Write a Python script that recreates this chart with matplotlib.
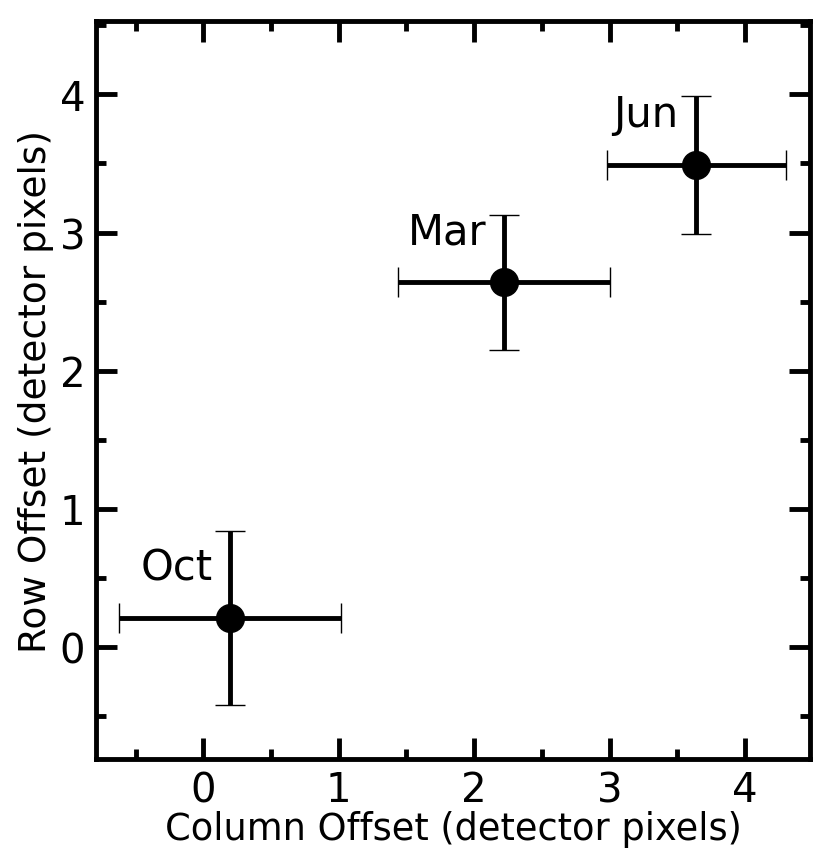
import matplotlib
matplotlib.use("Agg")
import matplotlib.pyplot as plt
from matplotlib.ticker import MultipleLocator

# offsets per epoch (detector pixels)
months = ["Oct", "Mar", "Jun"]
col_off = [0.20, 2.22, 3.64]
row_off = [0.21, 2.64, 3.49]
col_err = [0.82, 0.78, 0.66]
row_err = [0.63, 0.49, 0.50]

fig = plt.figure(figsize=(8.30, 8.53), dpi=100)
ax = fig.add_axes([0.116, 0.109, 0.860, 0.865])

ax.errorbar(col_off, row_off, xerr=col_err, yerr=row_err, fmt="o", color="black",
            markersize=20, elinewidth=3.5, capsize=11, capthick=1)

# labels sit up-left of each point
for m, x, y in zip(months, col_off, row_off):
    ax.text(x - 0.13, y + 0.28, m, fontsize=30, ha="right", va="baseline")

ax.set_xlim(-0.79, 4.48)
ax.set_ylim(-0.81, 4.53)
ax.xaxis.set_major_locator(MultipleLocator(1))
ax.xaxis.set_minor_locator(MultipleLocator(0.5))
ax.yaxis.set_major_locator(MultipleLocator(1))
ax.yaxis.set_minor_locator(MultipleLocator(0.5))
ax.tick_params(which="both", direction="in", top=True, right=True, width=3.5, labelsize=29, pad=8)
ax.tick_params(which="major", length=15)
ax.tick_params(which="minor", length=7.5)
for s in ax.spines.values():
    s.set_linewidth(3.5)

ax.set_xlabel("Column Offset (detector pixels)", fontsize=26.5, labelpad=0)
ax.set_ylabel("Row Offset (detector pixels)", fontsize=27, labelpad=4)

fig.savefig("out.png", dpi=100)
